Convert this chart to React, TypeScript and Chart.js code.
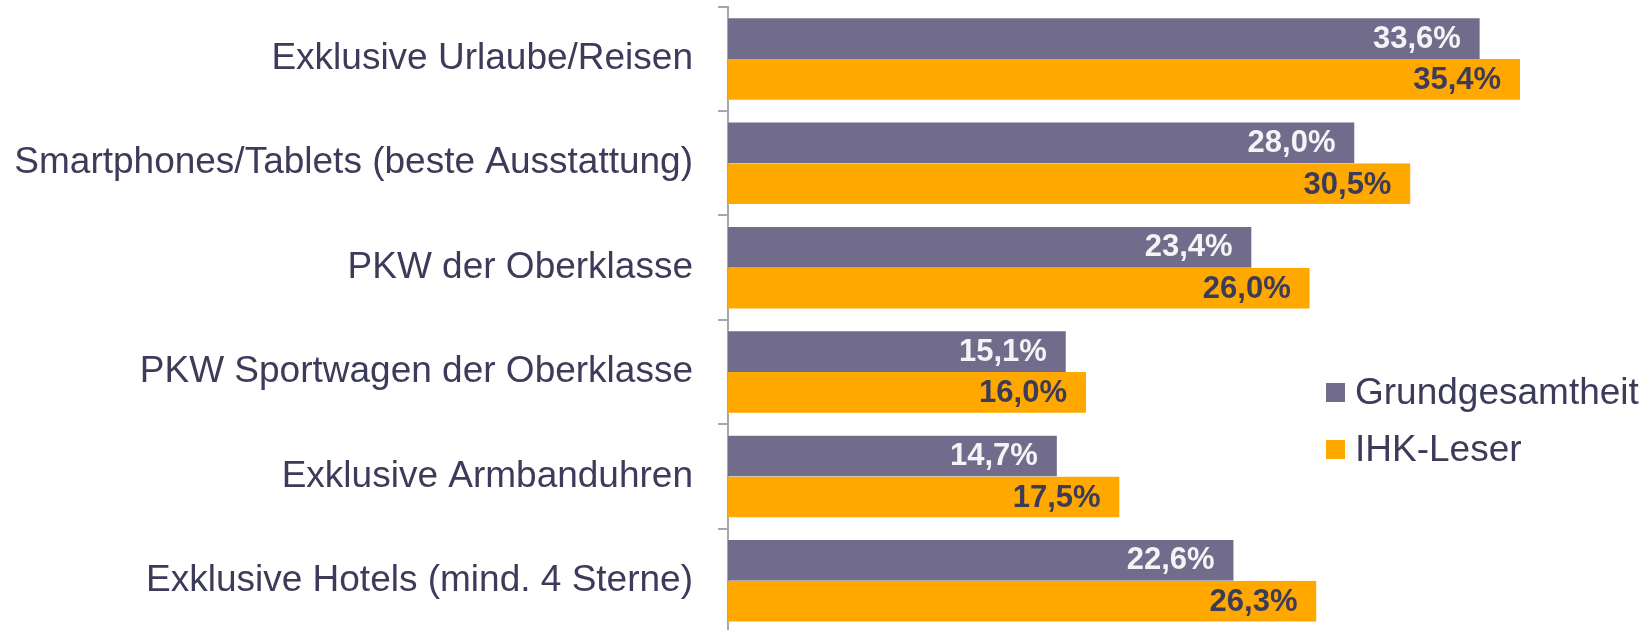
import React, { useEffect, useRef } from "react";
import { Chart, registerables } from "chart.js";

Chart.register(...registerables);

const categories = [
  "Exklusive Urlaube/Reisen",
  "Smartphones/Tablets (beste Ausstattung)",
  "PKW der Oberklasse",
  "PKW Sportwagen der Oberklasse",
  "Exklusive Armbanduhren",
  "Exklusive Hotels (mind. 4 Sterne)",
];
const seriesNames = ["Grundgesamtheit", "IHK-Leser"];
const grundgesamtheit = [33.6, 28.0, 23.4, 15.1, 14.7, 22.6];
const ihkLeser = [35.4, 30.5, 26.0, 16.0, 17.5, 26.3];

const PURPLE = "#716c8b";
const ORANGE = "#ffa800";
const TEXT = "#3d3b5a";
const AXIS = "#a6a6ae";
const FONT = "'Liberation Sans', Arial, sans-serif";

const fmt = (v: number) => v.toFixed(1).replace(".", ",") + "%";

const labelPlugin = {
  id: "valueLabels",
  afterDatasetsDraw(chart: any) {
    const ctx = chart.ctx;
    ctx.save();
    ctx.font = `bold 31px ${FONT}`;
    ctx.textAlign = "right";
    ctx.textBaseline = "middle";
    chart.data.datasets.forEach((ds: any, di: number) => {
      const meta = chart.getDatasetMeta(di);
      ctx.fillStyle = di === 0 ? "#f4f4f6" : TEXT;
      meta.data.forEach((el: any, i: number) => {
        ctx.fillText(fmt(ds.data[i]), el.x - 19, el.y + 1);
      });
    });
    ctx.restore();
  },
};

const legendPlugin = {
  id: "customLegend",
  afterDraw(chart: any) {
    const ctx = chart.ctx;
    ctx.save();
    ctx.font = `37px ${FONT}`;
    ctx.textBaseline = "middle";
    ctx.textAlign = "left";
    chart.data.datasets.forEach((ds: any, di: number) => {
      const cy = 392.5 + di * 57;
      ctx.fillStyle = ds.backgroundColor;
      ctx.fillRect(1326, cy - 9.5, 19, 19);
      ctx.fillStyle = TEXT;
      ctx.fillText(ds.label, 1355, cy + 1);
    });
    ctx.restore();
  },
};

export default function App() {
  const ref = useRef<HTMLCanvasElement | null>(null);

  useEffect(() => {
    if (!ref.current) return;
    const chart = new Chart(ref.current, {
      type: "bar",
      data: {
        labels: categories,
        datasets: [
          {
            label: seriesNames[0],
            data: grundgesamtheit,
            backgroundColor: PURPLE,
            borderColor: "rgba(255,255,255,0.35)",
            borderWidth: { top: 1, bottom: 0, right: 0, left: 0 },
            borderSkipped: false,
            categoryPercentage: 0.8,
            barPercentage: 1.0,
          },
          {
            label: seriesNames[1],
            data: ihkLeser,
            backgroundColor: ORANGE,
            borderColor: "rgba(255,255,255,0.35)",
            borderWidth: { top: 0, bottom: 1, right: 0, left: 0 },
            borderSkipped: false,
            categoryPercentage: 0.8,
            barPercentage: 1.0,
          },
        ],
      },
      options: {
        indexAxis: "y",
        responsive: false,
        animation: false,
        layout: { padding: { top: 6.7, bottom: 7, right: 29, left: 0 } },
        plugins: {
          legend: { display: false },
          tooltip: { enabled: false },
        },
        scales: {
          x: {
            display: false,
            min: 0,
            max: 40,
          },
          y: {
            afterFit(scale: any) {
              scale.width = 728;
              scale.paddingTop = 0;
              scale.paddingBottom = 0;
            },
            grid: {
              display: true,
              drawOnChartArea: false,
              drawTicks: true,
              tickLength: 10,
              color: AXIS,
              lineWidth: 2,
              offset: true,
            },
            border: { display: true, color: AXIS, width: 2 },
            ticks: {
              color: TEXT,
              padding: 25,
              font: { family: FONT, size: 37 },
            },
          },
        },
      } as any,
      plugins: [labelPlugin, legendPlugin],
    });
    return () => chart.destroy();
  }, []);

  return (
    <div
      style={{
        position: "fixed",
        left: 0,
        top: 0,
        width: 1652,
        height: 630,
        overflow: "hidden",
        background: "#fff",
      }}
    >
      <canvas ref={ref} width={1652} height={640} style={{ display: "block" }} />
    </div>
  );
}
